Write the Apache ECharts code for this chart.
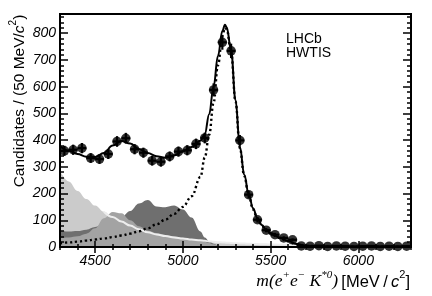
<!DOCTYPE html>
<html><head><meta charset="utf-8">
<script src="https://cdn.jsdelivr.net/npm/echarts@6/dist/echarts.min.js"></script>
<style>html,body{margin:0;padding:0;background:#fff}#c{width:432px;height:296px}</style>
</head><body><div id="c"></div>
<script>
// ---- data ----
const binCenters = [4325,4375,4425,4475,4525,4575,4625,4675,4725,4775,4825,4875,4925,4975,5025,5075,5125,5175,5225,5275,5325,5375,5425,5475,5525,5575,5625,5675,5725,5775,5825,5875,5925,5975,6025,6075,6125,6175,6225,6275];
const counts     = [360,364,370,333,329,348,395,407,366,353,323,319,339,357,362,386,408,588,766,734,399,196,102,63,46,34,27,4,3,5,2,4,3,2,3,4,2,3,2,3];
const binHalfWidth = 25;

const curveMass = [4300,4350,4400,4450,4500,4550,4600,4650,4700,4750,4800,4850,4900,4950,5000,5050,5100,5125,5150,5175,5200,5225,5240,5250,5275,5300,5325,5350,5375,5400,5425,5450,5475,5500,5550,5600,5650,5700,5800,5900,6000,6100,6200,6300];
const fitTotal  = [378,360,348,338,337,352,380,397,387,367,352,340,334,343,358,374,398,422,497,600,715,808,832,822,735,550,375,270,198,145,108,82,64,52,36,22,11,5,2,1.5,1,1,1,1];
const fitSignal = [14,17,20,24,28,32,37,43,50,59,70,85,102,124,150,190,262,335,420,540,680,790,820,815,730,545,370,266,194,141,105,79,62,50,34,21,10,4,2,1.5,1,1,1,1];
const bgComb    = [285,245,210,180,155,132,112,95,80,66,55,47,41,36,32,28,25,23,21,19.5,18,17,16.5,16,15,14,13.5,13,12,11.5,11,10.5,10,9.5,8.5,8,7.5,7,6,5.5,5,4.5,4,3.5];
const bgPartDark= [60,58,60,65,75,88,100,112,135,163,176,152,149,155,140,110,58,36,22,12,6,3,2,1,0,0,0,0,0,0,0,0,0,0,0,0,0,0,0,0,0,0,0,0];
const bgPartMid = [34,36,40,50,70,108,131,126,100,78,62,52,45,40,35,30,24,20,15,10,6,3,2,1.5,1,0.5,0,0,0,0,0,0,0,0,0,0,0,0,0,0,0,0,0,0];
const combLineFrom = 4550;   // the pale outline of the combinatorial shape shows from here on

const xMajorTicks = [4500,5000,5500,6000];
const X_MIN = 4300, X_MAX = 6300, Y_MIN = 0, Y_MAX = 872;

// ---- chart ----
const chart = echarts.init(document.getElementById('c'), null, {renderer:'canvas'});
const pair = arr => curveMass.map((m,i)=>[m, arr[i]]);
const tickStyle = {color:'#000', width:1.5};
const labelFont = {color:'#000', fontFamily:'Liberation Sans, Arial, sans-serif', fontStyle:'italic', fontSize:14};

function xAx(pos, len, custom, withLabels){
  const a = {type:'value', position:pos, min:X_MIN, max:X_MAX, z:20,
    axisLine:{show:false}, splitLine:{show:false},
    axisTick:{show:true, inside:true, length:len, lineStyle:tickStyle},
    axisLabel:{show:false}};
  if (custom) a.axisTick.customValues = custom; else a.interval = 100;
  if (withLabels) a.axisLabel = Object.assign({show:true, margin:7, formatter:v => (v % 500 === 0 ? String(v) : '')}, labelFont);
  return a;
}
function yAx(pos, len, interval, withLabels){
  const a = {type:'value', position:pos, min:Y_MIN, max:Y_MAX, interval:interval, z:20,
    axisLine:{show:false}, splitLine:{show:false},
    axisTick:{show:true, inside:true, length:len, lineStyle:tickStyle},
    axisLabel:{show:false}};
  if (withLabels) a.axisLabel = Object.assign({show:true, margin:4, formatter:v => (v % 100 === 0 ? String(v) : '')}, labelFont);
  return a;
}

const area = (arr, color, z) => ({type:'line', data:pair(arr), smooth:0.4, smoothMonotone:'x', showSymbol:false,
  lineStyle:{width:0}, areaStyle:{color:color, opacity:1}, itemStyle:{color:color}, z:z, silent:true});

const option = {
  animation:false,
  backgroundColor:'#fff',
  grid:{left:60, right:21, top:14, bottom:49, show:true, borderColor:'#000', borderWidth:2, backgroundColor:'transparent', z:20},
  xAxis:[xAx('bottom',3,null,true), xAx('bottom',6,xMajorTicks,false), xAx('top',3,null,false), xAx('top',6,xMajorTicks,false)],
  yAxis:[yAx('left',4,20,true), yAx('left',8,100,false), yAx('right',4,20,false), yAx('right',8,100,false)],
  series:[
    area(bgComb, '#cbcbcb', 1),
    area(bgPartDark, '#6f6f6f', 2),
    area(bgPartMid, '#a3a3a3', 3),
    {type:'line', data:pair(bgComb).filter(p => p[0] >= combLineFrom), smooth:0.4, smoothMonotone:'x', showSymbol:false, lineStyle:{color:'#ededed', width:2}, z:4, silent:true},
    {type:'line', data:pair(fitSignal), smooth:0.4, smoothMonotone:'x', showSymbol:false, lineStyle:{color:'#000', width:2.4, type:[2.2,2.8]}, z:5, silent:true},
    {type:'line', data:pair(fitTotal), smooth:0.4, smoothMonotone:'x', showSymbol:false, lineStyle:{color:'#000', width:2}, z:6, silent:true},
    {type:'custom', clip:true, z:7, silent:true,
      data: binCenters.map((m,i)=>[m, counts[i], Math.sqrt(counts[i])]),
      renderItem:(params, api) => {
        const x = api.value(0), y = api.value(1), e = api.value(2);
        const pL = api.coord([x - binHalfWidth, y]), pR = api.coord([x + binHalfWidth, y]);
        const pT = api.coord([x, y + e]), pB = api.coord([x, Math.max(0, y - e)]);
        return {type:'group', children:[
          {type:'line', shape:{x1:pL[0], y1:pL[1], x2:pR[0], y2:pR[1]}, style:{stroke:'#000', lineWidth:2.2}},
          {type:'line', shape:{x1:pT[0], y1:pT[1], x2:pB[0], y2:pB[1]}, style:{stroke:'#000', lineWidth:2.2}}
        ]};
      }},
    {type:'scatter', data:binCenters.map((m,i)=>[m, counts[i]]), symbol:'circle', symbolSize:9.5, itemStyle:{color:'#000'}, z:8, silent:true}
  ],
  graphic:[
    {type:'text', x:18, y:101, rotation:Math.PI/2, z:100,
      style:{text:'{s|Candidates / (50 MeV/}{i|c}{p|2}{s|)}', align:'center', verticalAlign:'middle',
        rich:{
          s:{fontFamily:'Liberation Sans, Arial, sans-serif', fontSize:15.5, fill:'#000', lineHeight:20, verticalAlign:'bottom'},
          i:{fontFamily:'Liberation Sans, Arial, sans-serif', fontStyle:'italic', fontSize:15.5, fill:'#000', lineHeight:20, verticalAlign:'bottom'},
          p:{fontFamily:'Liberation Sans, Arial, sans-serif', fontSize:10, fill:'#000', lineHeight:20, verticalAlign:'top'}
        }}},
    {type:'text', x:410, y:280, z:100,
      style:{text:'{m|m(e}{p|+}{m|e}{p|\u2212}{m| K}{p|*0}{m|)} {s|[MeV\u2009/\u2009}{i|c}{q|2}{s|]}', align:'right', verticalAlign:'middle',
        rich:{
          m:{fontFamily:'Liberation Serif, Times New Roman, serif', fontStyle:'italic', fontSize:17.5, fill:'#000', lineHeight:21, verticalAlign:'bottom'},
          p:{fontFamily:'Liberation Serif, Times New Roman, serif', fontStyle:'italic', fontSize:11, fill:'#000', lineHeight:21, verticalAlign:'top'},
          s:{fontFamily:'Liberation Sans, Arial, sans-serif', fontSize:16.5, fill:'#000', lineHeight:21, verticalAlign:'bottom'},
          i:{fontFamily:'Liberation Sans, Arial, sans-serif', fontStyle:'italic', fontSize:16.5, fill:'#000', lineHeight:21, verticalAlign:'bottom'},
          q:{fontFamily:'Liberation Sans, Arial, sans-serif', fontSize:11, fill:'#000', lineHeight:21, verticalAlign:'top'}
        }}},
    {type:'text', x:286, y:39, z:100, style:{text:'LHCb', fill:'#000', font:'14px Liberation Sans, Arial, sans-serif', verticalAlign:'middle'}},
    {type:'text', x:286, y:53, z:100, style:{text:'HWTIS', fill:'#000', font:'14px Liberation Sans, Arial, sans-serif', verticalAlign:'middle'}}
  ]
};
chart.setOption(option);
</script></body></html>
